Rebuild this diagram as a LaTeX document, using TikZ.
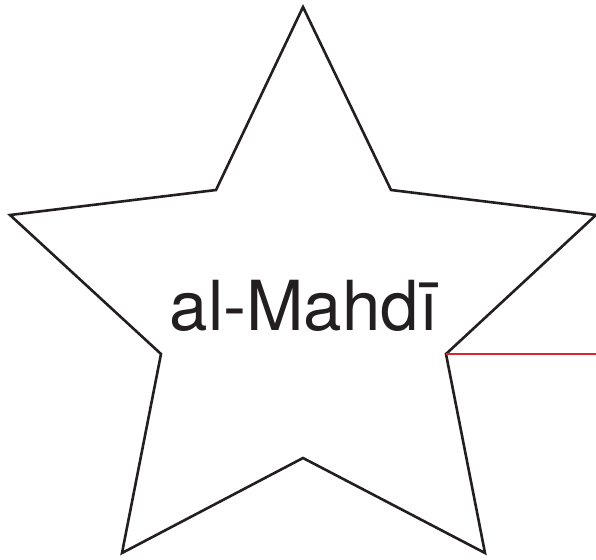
\documentclass[tikz,border=0pt]{standalone}
\usepackage{fontspec}
\setmainfont{TeX Gyre Heros}
\usepackage{xcolor}
\definecolor{starline}{RGB}{35,31,32}
\definecolor{linkred}{RGB}{218,37,45}
\usepackage{tikz}
\usetikzlibrary{positioning}

\begin{document}
\begin{tikzpicture}[
  x=1pt, y=-1pt,
  starline/.style={draw=starline, line width=2.6pt, line join=miter},
  link/.style={draw=linkred, line width=2.2pt},
  title/.style={font=\fontsize{69}{74}\selectfont, text=starline, anchor=base, inner sep=0pt}
]
  \useasboundingbox (0,0) rectangle (596,559);

  % star points, outer and inner
  \coordinate (top) at (303,7);
  \coordinate (inTR) at (391,190);
  \coordinate (outR) at (596,215);
  \coordinate (inR) at (446,354);
  \coordinate (outBR) at (485,553);
  \coordinate (inB) at (303,458);
  \coordinate (outBL) at (122,553);
  \coordinate (inL) at (161,354);
  \coordinate (outL) at (10,215);
  \coordinate (inTL) at (216,190);

  \draw[starline] (top) -- (inTR) -- (outR) -- (inR) -- (outBR) -- (inB)
    -- (outBL) -- (inL) -- (outL) -- (inTL) -- cycle;

  \node[title] (name) at (304,330) {al-Mahdī};

  \coordinate (edge) at (596,354);
  \draw[link] (inR) -- (edge);
\end{tikzpicture}
\end{document}
